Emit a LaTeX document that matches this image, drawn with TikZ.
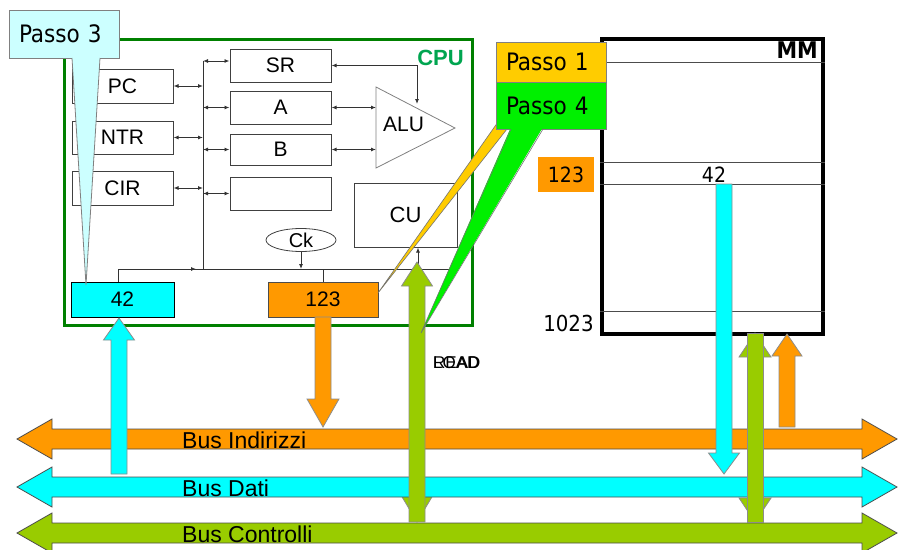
\documentclass[tikz,border=0pt]{standalone}
\usepackage{fontspec}
\setmainfont{Liberation Sans}
\newfontfamily\tahoma{DejaVu Sans Condensed}
\usetikzlibrary{arrows.meta,positioning,shapes.geometric,calc}

\definecolor{busorange}{HTML}{FF9900}
\definecolor{buscyan}{HTML}{00FFFF}
\definecolor{buslime}{HTML}{99CC00}
\definecolor{cpugreen}{HTML}{008000}
\definecolor{cpulabel}{HTML}{00A550}
\definecolor{passoyel}{HTML}{FFCC00}
\definecolor{passogrn}{HTML}{00F000}
\definecolor{calloutcyan}{HTML}{CCFFFF}

\tikzset{
  box/.style={draw=black!75, line width=1pt, fill=white, inner sep=0pt,
    minimum width=101pt, minimum height=33pt, font=\fontsize{21}{21}\selectfont},
  wire/.style={line width=0.9pt, draw=black!80},
  link/.style={wire, {Latex[length=5pt,width=4pt]}-{Latex[length=5pt,width=4pt]}},
  tip/.style={wire, -{Latex[length=5pt,width=4pt]}},
  passo/.style={draw=black!50, line width=0.8pt, inner xsep=10pt, inner ysep=0pt,
    text width=90pt, align=left, minimum width=110pt, text depth=0pt,
    font=\tahoma\fontsize{24}{24}\selectfont},
  buslabel/.style={inner sep=0pt, font=\fontsize{23}{23}\selectfont},
  mmtext/.style={inner sep=0pt, font=\tahoma\fontsize{21}{21}\selectfont},
}

% fat arrows: colour, x, tail y, head base y, tip y, head half width
\newcommand\fatarrow[6]{%
  \filldraw[fill=#1, draw=black!45, line width=0.8pt]
    (#2-8,#3) -- (#2-8,#4) -- (#2-#6,#4) -- (#2,#5) -- (#2+#6,#4) -- (#2+8,#4) -- (#2+8,#3) -- cycle;}
\newcommand\fathead[5]{%
  \filldraw[fill=#1, draw=black!45, line width=0.8pt] (#2-#5,#3) -- (#2,#4) -- (#2+#5,#3) -- cycle;}
\newcommand\fatshaft[4]{%
  \filldraw[fill=#1, draw=black!45, line width=0.8pt] (#2-8,#3) rectangle (#2+8,#4);}
% bus: name, colour, centre y, label
\newcommand\busarrow[4]{%
  \filldraw[fill=#2, draw=black!70, line width=0.8pt]
    (17,#3) -- (52,#3-20) -- (52,#3-10) -- (862,#3-10) -- (862,#3-20) -- (897,#3)
    -- (862,#3+20) -- (862,#3+10) -- (52,#3+10) -- (52,#3+20) -- cycle;
  \node[buslabel, anchor=base west] (#1) at (182,#3+9) {#4};}

\begin{document}
\begin{tikzpicture}[x=1pt, y=-1pt]
  \useasboundingbox (0,0) rectangle (901,549);

  % CPU
  \draw[cpugreen, line width=3pt] (64,39) rectangle (472,325);
  \node[anchor=east, inner sep=0pt, text=cpulabel, font=\bfseries\fontsize{22}{22}\selectfont] (cpu) at (464,58) {CPU};

  \node[box, minimum height=34pt] (pc) at (122.5,86) {PC};
  \node[box, below=17pt of pc] (ntr) {NTR};
  \node[box, below=16pt of ntr, minimum height=34pt] (cir) {CIR};
  \node[box] (sr) at (280.5,65.5) {SR};
  \node[box, below=8pt of sr] (rega) {A};
  \node[box, below=9pt of rega, minimum height=31pt] (regb) {B};
  \node[box, below=11pt of regb] (regx) {};

  \draw[draw=black!50, line width=0.8pt, fill=white] (376,87) -- (455,128) -- (376,168) -- cycle;
  \node[inner sep=0pt, font=\fontsize{21}{21}\selectfont] (alu) at (403.5,124.5) {ALU};
  \coordinate (aluin) at (376,127);
  \coordinate (alutop) at (417,104);

  \node[box, minimum width=103pt, minimum height=64pt, font=\fontsize{22}{22}\selectfont] (cu) at (405.5,215) {CU};
  \node[ellipse, draw=black!75, line width=0.8pt, inner sep=0pt, minimum width=70pt, minimum height=23pt,
    font=\fontsize{20}{20}\selectfont] (ck) at (301,240) {Ck};
  \node[box, fill=buscyan, draw=black, minimum width=103pt, minimum height=35pt] (mdr) at (122.5,299.5) {42};
  \node[box, fill=busorange, draw=black!70, minimum width=110pt, minimum height=35pt] (mar) at (323,299.5) {123};

  \coordinate (bustop) at (203,61);
  \coordinate (busend) at (203,269);
  \coordinate (cuend) at (450,269);
  \coordinate (ctl) at (418,269);
  \draw[wire] (bustop) -- (busend);
  \foreach \r in {pc,ntr,cir}
    \draw[link] (\r.east) -- (\r.east -| bustop);
  \draw[link] (bustop) -- (bustop -| sr.west);
  \foreach \r in {rega,regb,regx}
    \draw[link] (\r.west -| bustop) -- (\r.west);
  \draw[link] (sr.east) -- (sr.east -| alutop) -- (alutop);
  \foreach \r in {rega,regb}
    \draw[link] (\r.east) -- (\r.east -| aluin);
  \draw[wire] ([xshift=-4.5pt]mdr.north) |- (cuend);
  \draw[tip] ($(busend)+(-40,0)$) -- ($(busend)+(-7,0)$);
  \draw[tip] (ck.south) -- (ck.south |- busend);
  \draw[wire] (mar.north) -- (mar.north |- busend);
  \draw[tip] (ctl) -- (ctl |- cu.south);

  % MM
  \node[draw, line width=3.5pt, inner sep=0pt, minimum width=221pt, minimum height=295pt] (mm) at (712.5,186.5) {};
  \foreach \y in {62,162,184,311}
    \draw[black!70, line width=1pt] (mm.west |- 0,\y) -- (mm.east |- 0,\y);
  \node[anchor=north east, inner sep=0pt, font=\tahoma\bfseries\fontsize{23}{23}\selectfont] (mmlabel) at (818,42) {MM};
  \node[mmtext] (cell) at (714,174.5) {42};
  \node[mmtext, fill=busorange, minimum width=56pt, minimum height=35pt] (addr) at (566,174.5) {123};
  \node[mmtext, font=\tahoma\fontsize{22}{22}\selectfont] (last) at (568.5,323.5) {1023};

  % buses
  \fathead{buslime}{417}{496}{522}{15.5}
  \fathead{buslime}{755}{498}{522}{16}
  \busarrow{bind}{busorange}{439}{Bus Indirizzi}
  \busarrow{bdati}{buscyan}{487}{Bus Dati}
  \busarrow{bctl}{buslime}{533}{Bus Controlli}

  \fatarrow{buscyan}{119}{474}{340}{318}{15.5}
  \fatarrow{busorange}{323}{317}{399}{427}{16}
  \fatarrow{buslime}{417}{522}{286}{262}{15.5}
  \fatarrow{buscyan}{724}{184}{453}{474}{15.5}
  \fathead{buslime}{755}{357}{333}{16}
  \fatshaft{buslime}{755}{333}{522}
  \fatarrow{busorange}{787}{427}{356}{334}{15}

  \node[anchor=west, inner sep=0pt, font=\fontsize{17}{17}\selectfont] (rd) at (433,363) {READ};
  \node[anchor=west, inner sep=0pt, font=\fontsize{17}{17}\selectfont] (ld) at (433,363) {LOAD};

  % callouts
  \node[passo, fill=calloutcyan, minimum height=48pt] (p3) at (64,34) {Passo 3};
  \fill[calloutcyan] (72,56) -- (86,285) -- (100,56) -- cycle;
  \draw[black!50, line width=0.8pt] (72,58) -- (86,285) -- (100,58);

  \filldraw[fill=passoyel, draw=black!55, line width=0.6pt] (526,82) -- (378,293) -- (544,82) -- cycle;
  \node[passo, fill=passoyel, minimum height=40pt] (p1) at (551,62) {Passo 1};
  \node[passo, fill=passogrn, minimum height=47pt] (p4) at (551,105.5) {Passo 4};
  \fill[passogrn] (511,127) -- (421,333) -- (543,127) -- cycle;
  \draw[black!55, line width=0.6pt] (511,129) -- (421,333) -- (543,129);
\end{tikzpicture}
\end{document}
